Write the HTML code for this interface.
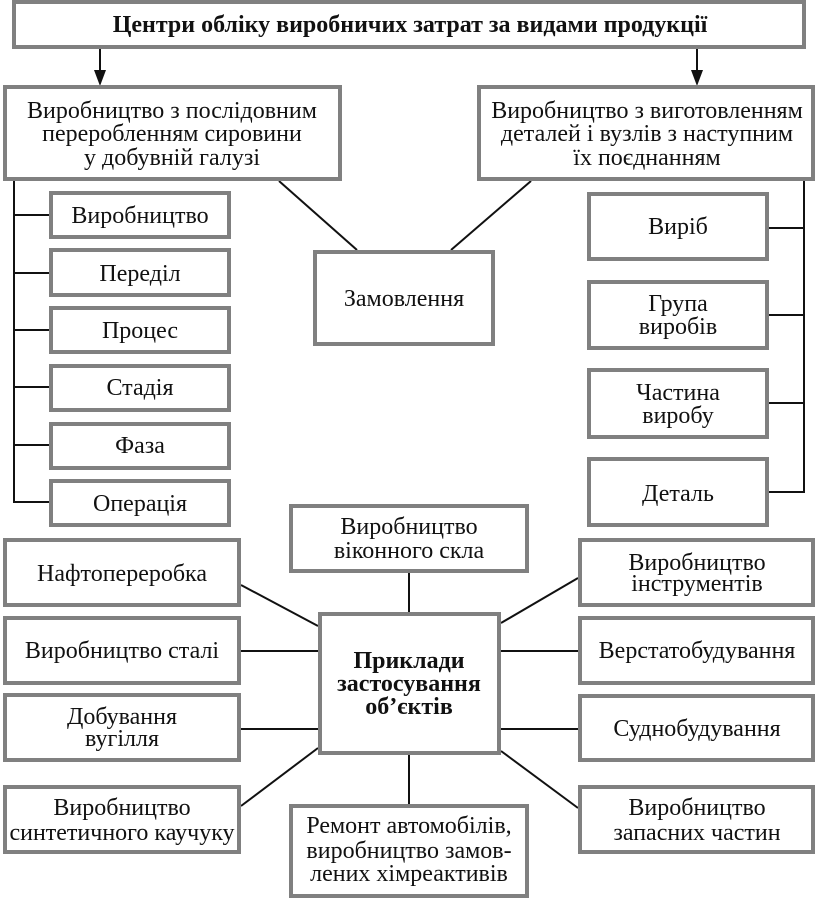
<!DOCTYPE html>
<html><head><meta charset="utf-8"><style>
html,body{margin:0;padding:0;background:#fff;}
svg{display:block;}
text{font-family:"Liberation Serif","DejaVu Serif",serif;font-size:24px;fill:#111;text-anchor:middle;}
.b{font-weight:bold;}
rect{fill:#fff;stroke:#808080;stroke-width:4;}
line{stroke:#111;stroke-width:2;}
</style></head><body>
<svg width="816" height="924" viewBox="0 0 816 924" xmlns="http://www.w3.org/2000/svg">
<!-- connectors -->
<line x1="100" y1="49" x2="100" y2="76"/>
<polygon points="94,70 106,70 100,86" fill="#111"/>
<line x1="697" y1="49" x2="697" y2="76"/>
<polygon points="691,70 703,70 697,86" fill="#111"/>

<line x1="279" y1="181" x2="357" y2="250"/>
<line x1="531" y1="181" x2="451" y2="250"/>

<line x1="14" y1="181" x2="14" y2="503"/>
<line x1="14" y1="215" x2="49" y2="215"/>
<line x1="14" y1="273" x2="49" y2="273"/>
<line x1="14" y1="330" x2="49" y2="330"/>
<line x1="14" y1="387" x2="49" y2="387"/>
<line x1="14" y1="445" x2="49" y2="445"/>
<line x1="13" y1="502" x2="49" y2="502"/>

<line x1="804" y1="181" x2="804" y2="493"/>
<line x1="769" y1="228" x2="805" y2="228"/>
<line x1="769" y1="315" x2="805" y2="315"/>
<line x1="769" y1="403" x2="805" y2="403"/>
<line x1="769" y1="492" x2="805" y2="492"/>

<line x1="409" y1="573" x2="409" y2="612"/>
<line x1="409" y1="755" x2="409" y2="804"/>
<line x1="241" y1="585" x2="318" y2="626"/>
<line x1="241" y1="651" x2="318" y2="651"/>
<line x1="241" y1="729" x2="318" y2="729"/>
<line x1="241" y1="806" x2="318" y2="748"/>
<line x1="501" y1="623" x2="578" y2="578"/>
<line x1="501" y1="651" x2="578" y2="651"/>
<line x1="501" y1="729" x2="578" y2="729"/>
<line x1="501" y1="751" x2="578" y2="808"/>

<!-- boxes -->
<rect x="14" y="2" width="790" height="45"/>
<rect x="5" y="87" width="335" height="92"/>
<rect x="479" y="87" width="334" height="92"/>

<rect x="51" y="193" width="178" height="44"/>
<rect x="51" y="250" width="178" height="45"/>
<rect x="51" y="308" width="178" height="44"/>
<rect x="51" y="366" width="178" height="44"/>
<rect x="51" y="424" width="178" height="44"/>
<rect x="51" y="481" width="178" height="44"/>

<rect x="315" y="252" width="178" height="92"/>

<rect x="589" y="194" width="178" height="65"/>
<rect x="589" y="282" width="178" height="66"/>
<rect x="589" y="370" width="178" height="67"/>
<rect x="589" y="459" width="178" height="66"/>

<rect x="291" y="506" width="236" height="65"/>
<rect x="320" y="614" width="179" height="139"/>
<rect x="291" y="806" width="236" height="90"/>

<rect x="5" y="540" width="234" height="65"/>
<rect x="5" y="618" width="234" height="65"/>
<rect x="5" y="695" width="234" height="65"/>
<rect x="5" y="787" width="234" height="65"/>

<rect x="580" y="540" width="233" height="65"/>
<rect x="580" y="618" width="233" height="65"/>
<rect x="580" y="696" width="233" height="64"/>
<rect x="580" y="787" width="233" height="65"/>

<!-- text -->
<text class="b" x="410" y="32" style="font-size:24px">Центри обліку виробничих затрат за видами продукції</text>

<text x="172" y="118">Виробництво з послідовним</text>
<text x="172" y="141">переробленням сировини</text>
<text x="172" y="165">у добувній галузі</text>

<text x="647" y="118">Виробництво з виготовленням</text>
<text x="647" y="141">деталей і вузлів з наступним</text>
<text x="647" y="165">їх поєднанням</text>

<text x="140" y="223">Виробництво</text>
<text x="140" y="281">Переділ</text>
<text x="140" y="338">Процес</text>
<text x="140" y="395">Стадія</text>
<text x="140" y="453">Фаза</text>
<text x="140" y="511">Операція</text>

<text x="404" y="306">Замовлення</text>

<text x="678" y="234">Виріб</text>
<text x="678" y="311">Група</text>
<text x="678" y="334">виробів</text>
<text x="678" y="400">Частина</text>
<text x="678" y="423">виробу</text>
<text x="678" y="501">Деталь</text>

<text x="409" y="534">Виробництво</text>
<text x="409" y="558">віконного скла</text>

<text class="b" x="409" y="668">Приклади</text>
<text class="b" x="409" y="691">застосування</text>
<text class="b" x="409" y="714">об’єктів</text>

<text x="409" y="833">Ремонт автомобілів,</text>
<text x="409" y="858">виробництво замов-</text>
<text x="409" y="881">лених хімреактивів</text>

<text x="122" y="581">Нафтопереробка</text>
<text x="122" y="658">Виробництво сталі</text>
<text x="122" y="724">Добування</text>
<text x="122" y="746">вугілля</text>
<text x="122" y="815">Виробництво</text>
<text x="122" y="840">синтетичного каучуку</text>

<text x="697" y="570">Виробництво</text>
<text x="697" y="591">інструментів</text>
<text x="697" y="658">Верстатобудування</text>
<text x="697" y="736">Суднобудування</text>
<text x="697" y="815">Виробництво</text>
<text x="697" y="840">запасних частин</text>
</svg>
</body></html>
